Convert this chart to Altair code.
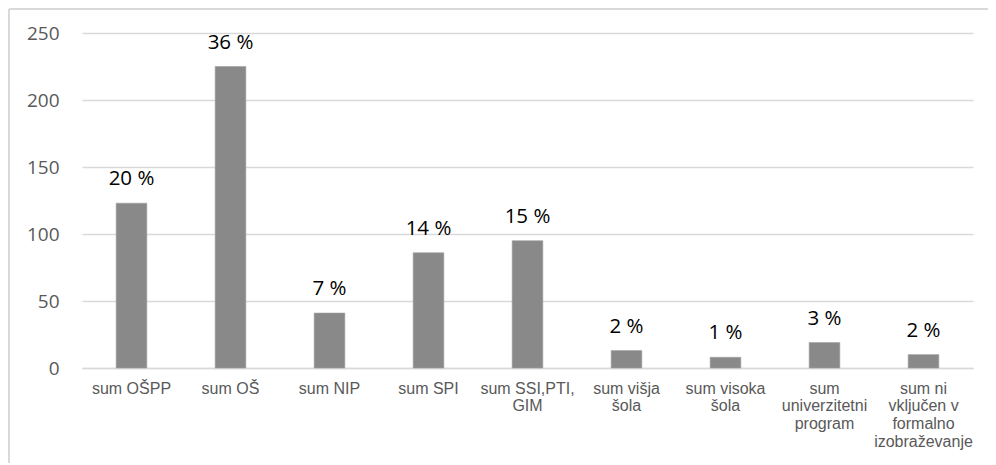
import altair as alt
import pandas as pd

categories = [
    "sum OŠPP",
    "sum OŠ",
    "sum NIP",
    "sum SPI",
    "sum SSI,PTI,\nGIM",
    "sum višja\nšola",
    "sum visoka\nšola",
    "sum\nuniverzitetni\nprogram",
    "sum ni\nvključen v\nformalno\nizobraževanje",
]
values = [123, 225, 41, 86, 95, 13, 8, 19, 10]
pct_labels = ["20 %", "36 %", "7 %", "14 %", "15 %", "2 %", "1 %", "3 %", "2 %"]
y_ticks = [0, 50, 100, 150, 200, 250]

df = pd.DataFrame({"cat": categories, "val": values, "pct": pct_labels})

x_enc = alt.X(
    "cat:N",
    sort=categories,
    title=None,
    scale=alt.Scale(paddingInner=0.69, paddingOuter=0.345),
    axis=alt.Axis(
        labelAngle=0,
        labelExpr="split(datum.label, '\\n')",
        labelFont="Liberation Sans",
        labelFontSize=16,
        labelColor="#595959",
        labelLineHeight=17.7,
        labelPadding=12,
        labelBaseline="top",
        ticks=False,
        domain=True,
        domainColor="#d9d9d9",
        domainWidth=1.3,
        grid=False,
    ),
)
y_enc = alt.Y(
    "val:Q",
    title=None,
    scale=alt.Scale(domain=[0, 250], nice=False),
    axis=alt.Axis(
        values=y_ticks,
        grid=True,
        gridColor="#d9d9d9",
        gridWidth=1.3,
        domain=False,
        ticks=False,
        labelFont="Open Sans",
        labelFontSize=19,
        labelColor="#595959",
        labelPadding=23,
    ),
)

bars = alt.Chart().mark_bar(color="#898989", stroke="#a0a0a0", strokeWidth=0.6).encode(x=x_enc, y=y_enc)

labels = alt.Chart().mark_text(
    font="Open Sans", fontSize=20.5, color="#000000", baseline="alphabetic", align="center", dy=-18
).encode(
    x=alt.X("cat:N", sort=categories),
    y=alt.Y("val:Q"),
    text="pct:N",
)

frame_left = alt.Chart().mark_rule(color="#d9d9d9", strokeWidth=1.5).encode(
    x=alt.value(-73), y=alt.value(-24), y2=alt.value(440)
)
frame_top = alt.Chart().mark_rule(color="#d9d9d9", strokeWidth=1.5).encode(
    x=alt.value(-73), x2=alt.value(990), y=alt.value(-24)
)

chart = (
    alt.layer(frame_left, frame_top, bars, labels, data=df)
    .properties(
        width=891,
        height=335,
        autosize=alt.AutoSizeParams(type="none"),
        padding={"left": 74, "top": 25, "right": 15, "bottom": 95},
    )
    .configure(background="white")
    .configure_view(stroke=None)
)

chart.save("out.html", embed_options={"renderer": "svg", "actions": False})
